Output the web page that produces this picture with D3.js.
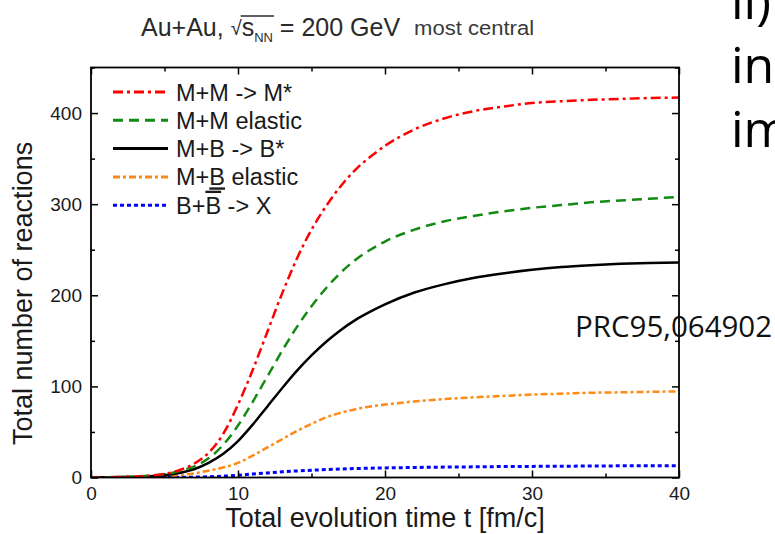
<!DOCTYPE html>
<html>
<head>
<meta charset="utf-8">
<script src="https://cdn.jsdelivr.net/npm/d3@7"></script>
<style>
  body { margin: 0; background: #fff; }
  svg { display: block; }
  text { font-family: "Liberation Sans", Arial, sans-serif; fill: #1a1a1a; }
  .axis text { font-size: 19px; }
  .axis line { stroke: #000; stroke-width: 1.5; }
  .axis path { display: none; }
</style>
</head>
<body>
<div id="chart"></div>
<script>
// time grid [fm/c] and cumulative reaction counts
const times = [0, 2, 4, 5, 6, 7, 8, 9, 10, 11, 12, 13, 14, 15, 16, 17, 18, 19, 20, 22, 24, 26, 28, 30, 32, 34, 36, 38, 40];
const mmToMStar = [0, 0.5, 2, 4, 8, 15, 27, 48, 80, 118, 160, 202, 240, 272, 298, 320, 338, 352, 364, 382, 394, 402, 407, 411, 413, 414.5, 415.5, 416.5, 417];
const mmElastic = [0, 0.5, 2, 3.5, 7, 12, 21, 36, 57, 83, 111, 139, 165, 188, 208, 225, 239, 250, 259, 272, 281, 287, 292, 296, 299, 302, 304, 306, 308];
const mbToBStar = [0, 0.5, 1.5, 2.5, 5, 9, 16, 26, 40, 58, 78, 98, 117, 134, 149, 162, 173, 182, 190, 203, 212, 219, 224, 228, 231, 233, 234.5, 235.5, 236];
const mbElastic = [0, 0.2, 0.8, 1.3, 2.5, 4.5, 7.5, 11, 16, 24, 33, 42, 51, 59, 66, 71, 75, 78, 80, 83.5, 86, 88, 89.5, 91, 92, 93, 93.5, 94, 94.5];
const bbarToX = [0, 0, 0, 0.1, 0.2, 0.4, 0.8, 1.5, 2.5, 3.8, 5, 6.2, 7.2, 8, 8.7, 9.3, 9.8, 10.2, 10.5, 11, 11.4, 11.7, 12, 12.2, 12.4, 12.6, 12.8, 12.9, 13];

const xMajor = [0, 10, 20, 30, 40];
const xMinor = [5, 15, 25, 35];
const yMajor = [0, 100, 200, 300, 400];
const yMinor = [50, 150, 250, 350, 450];

function init() {
    var w = 775, h = 534;
    var left = 91, right = 679, top = 67.5, bottom = 477.5;

    var series = [
        { values: mmToMStar, color: "#ff0000", dash: "10,4,3,4", width: 2.5 },
        { values: mmElastic, color: "#138a13", dash: "10,6", width: 2.5 },
        { values: mbToBStar, color: "#000000", dash: null, width: 2.5 },
        { values: mbElastic, color: "#ff8a14", dash: "7,3,3,3", width: 2.5 },
        { values: bbarToX, color: "#0000ff", dash: "4,3", width: 3 }
    ];

    var svg = d3.select("#chart").append("svg")
        .attr("width", w)
        .attr("height", h);

    var x = d3.scaleLinear().domain([0, 40]).range([left, right]);
    var y = d3.scaleLinear().domain([0, 450]).range([bottom, top]);

    svg.append("clipPath").attr("id", "plotClip")
        .append("rect")
        .attr("x", left).attr("y", top)
        .attr("width", right - left).attr("height", bottom - top);

    // curves
    var line = d3.line()
        .x((d, i) => x(times[i]))
        .y(d => y(d))
        .curve(d3.curveMonotoneX);

    var plot = svg.append("g").attr("clip-path", "url(#plotClip)");
    series.slice().reverse().forEach(s => {
        plot.append("path")
            .datum(s.values)
            .attr("fill", "none")
            .attr("stroke", s.color)
            .attr("stroke-width", s.width)
            .attr("stroke-dasharray", s.dash)
            .attr("d", line);
    });

    // axes, ticks pointing inwards on all four sides
    svg.append("g").attr("class", "axis")
        .attr("transform", `translate(0,${bottom})`)
        .call(d3.axisBottom(x).tickValues(xMajor).tickSize(-7).tickPadding(9).tickFormat(d3.format("d")));
    svg.append("g").attr("class", "axis")
        .attr("transform", `translate(0,${bottom})`)
        .call(d3.axisBottom(x).tickValues(xMinor).tickSize(-4).tickFormat(""));
    svg.append("g").attr("class", "axis")
        .attr("transform", `translate(0,${top})`)
        .call(d3.axisTop(x).tickValues(xMajor).tickSize(-7).tickFormat(""));
    svg.append("g").attr("class", "axis")
        .attr("transform", `translate(0,${top})`)
        .call(d3.axisTop(x).tickValues(xMinor).tickSize(-4).tickFormat(""));

    svg.append("g").attr("class", "axis")
        .attr("transform", `translate(${left},0)`)
        .call(d3.axisLeft(y).tickValues(yMajor).tickSize(-7).tickPadding(9).tickFormat(d3.format("d")));
    svg.append("g").attr("class", "axis")
        .attr("transform", `translate(${left},0)`)
        .call(d3.axisLeft(y).tickValues(yMinor).tickSize(-4).tickFormat(""));
    svg.append("g").attr("class", "axis")
        .attr("transform", `translate(${right},0)`)
        .call(d3.axisRight(y).tickValues(yMajor).tickSize(-7).tickFormat(""));
    svg.append("g").attr("class", "axis")
        .attr("transform", `translate(${right},0)`)
        .call(d3.axisRight(y).tickValues(yMinor).tickSize(-4).tickFormat(""));

    svg.append("rect")
        .attr("x", left).attr("y", top)
        .attr("width", right - left).attr("height", bottom - top)
        .attr("fill", "none").attr("stroke", "#000").attr("stroke-width", 1.8);

    // axis titles
    svg.append("text")
        .attr("x", (left + right) / 2)
        .attr("y", 527)
        .style("text-anchor", "middle")
        .style("font-size", "27px")
        .text("Total evolution time t [fm/c]");

    svg.append("text")
        .attr("transform", "rotate(-90)")
        .attr("x", -445)
        .attr("y", 32)
        .style("text-anchor", "start")
        .style("font-size", "27px")
        .text("Total number of reactions");

    // legend
    var legendY0 = 92, legendStep = 28.3;
    var legend = svg.append("g");
    series.forEach((s, i) => {
        var ly = legendY0 + i * legendStep;
        legend.append("line")
            .attr("x1", 113).attr("x2", 168)
            .attr("y1", ly).attr("y2", ly)
            .attr("stroke", s.color)
            .attr("stroke-width", 3)
            .attr("stroke-dasharray", s.dash);
    });
    var labels = [
        ["M+M -> M*"],
        ["M+M elastic"],
        ["M+B -> B*"],
        ["M+", "B", " elastic"],
        ["B+", "B", " -> X"]
    ];
    labels.forEach((parts, i) => {
        var t = legend.append("text")
            .attr("x", 176)
            .attr("y", legendY0 + i * legendStep + 8.5)
            .style("font-size", "23.5px")
            .style("white-space", "pre");
        parts.forEach((p, j) => {
            var ts = t.append("tspan").text(p);
            if (j === 1) ts.style("text-decoration", i === 3 ? "underline" : "overline");
        });
    });

    // title with sqrt(s_NN)
    var tx = 141, tb = 36;
    function piece(str, size, dy) {
        var el = svg.append("text")
            .attr("x", tx).attr("y", tb + (dy || 0))
            .style("font-size", size + "px")
            .style("white-space", "pre")
            .style("fill", "#2a2a2a")
            .text(str);
        var start = tx;
        tx += el.node().getComputedTextLength();
        return start;
    }
    piece("Au+Au, ", 25);
    piece("\u221A", 20, -1);
    var sStart = piece("s", 25);
    piece("NN", 13, 6);
    var sEnd = tx;
    svg.append("line")
        .attr("x1", sStart - 1).attr("x2", sEnd + 1)
        .attr("y1", tb - 20).attr("y2", tb - 20)
        .attr("stroke", "#2a2a2a").attr("stroke-width", 1.5);
    piece(" = 200 GeV", 25);
    tx += 14;
    svg.append("text")
        .attr("x", tx).attr("y", tb - 1)
        .style("font-size", "20px")
        .style("fill", "#3a3a3a")
        .attr("textLength", 120)
        .attr("lengthAdjust", "spacingAndGlyphs")
        .text("most central");

    // reference and slide text around the figure
    svg.append("text")
        .attr("x", 575).attr("y", 337)
        .style("font-family", "'Open Sans', sans-serif")
        .style("font-size", "29.5px")
        .style("fill", "#111")
        .text("PRC95,064902");

    var side = ["ii)", "int", "im"];
    side.forEach((s, i) => {
        svg.append("text")
            .attr("x", 731).attr("y", 19 + i * 64)
            .style("font-family", "'Open Sans', sans-serif")
            .style("font-size", "50px")
            .style("fill", "#000")
            .text(s);
    });
}

window.onload = init;
</script>
</body>
</html>
